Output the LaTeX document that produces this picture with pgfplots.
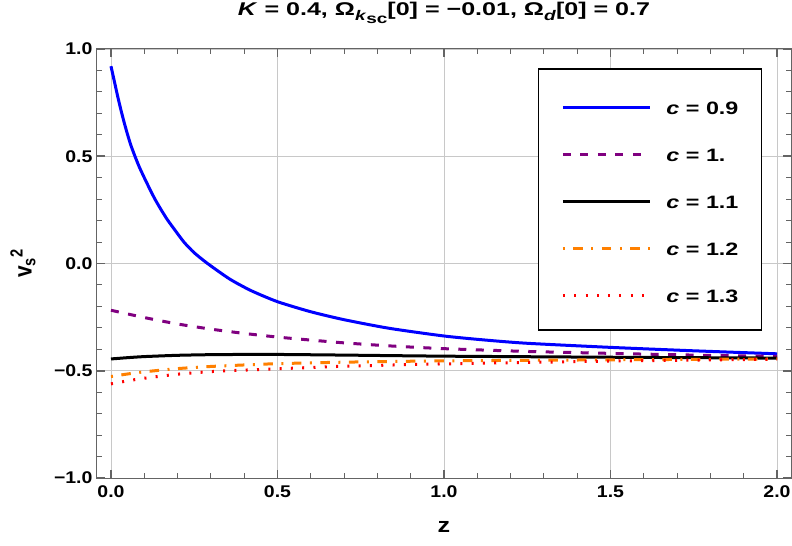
\documentclass[border=0pt]{standalone}
\usepackage{fontspec}
\setmainfont{Liberation Sans}
\usepackage{graphicx}
\usepackage{pgfplots}
\pgfplotsset{compat=1.18}
\definecolor{framegray}{RGB}{100,100,100}
\definecolor{gridgray}{RGB}{200,200,200}
\definecolor{mpurple}{RGB}{128,0,128}
\definecolor{morange}{RGB}{255,128,0}
\newcommand\tsx[1]{\scalebox{1.15}[1]{#1}}
\newcommand\lsx[1]{\scalebox{1.3}[1]{#1}}
\pgfplotstableread{
z v
0 0.92
0.01 0.85
0.02 0.78
0.03 0.715
0.04 0.655
0.05 0.60
0.06 0.55
0.072 0.50
0.085 0.45
0.1 0.40
0.115 0.352
0.132 0.30
0.15 0.252
0.169 0.205
0.19 0.16
0.219 0.10
0.25 0.05
0.29 0.0
0.356 -0.072
0.42 -0.126
0.5 -0.178
0.6 -0.225
0.7 -0.262
0.835 -0.302
1.0 -0.338
1.125 -0.357
1.25 -0.372
1.5 -0.391
1.75 -0.407
2.0 -0.421
}\blue
\pgfplotstableread{
z v
0 -0.218
0.1 -0.252
0.2 -0.282
0.3 -0.306
0.4 -0.326
0.5 -0.343
0.6 -0.357
0.7 -0.370
0.835 -0.384
1.0 -0.397
1.25 -0.410
1.5 -0.419
1.75 -0.427
2.0 -0.433
}\purple
\pgfplotstableread{
z v
0 -0.445
0.05 -0.439
0.1 -0.434
0.2 -0.428
0.3 -0.425
0.4 -0.424
0.5 -0.424
0.7 -0.427
1.0 -0.432
1.5 -0.437
2.0 -0.441
}\black
\pgfplotstableread{
z v
0 -0.527
0.05 -0.515
0.1 -0.505
0.2 -0.490
0.3 -0.480
0.4 -0.473
0.5 -0.467
0.7 -0.460
1.0 -0.454
1.5 -0.449
2.0 -0.445
}\orange
\pgfplotstableread{
z v
0 -0.561
0.05 -0.547
0.1 -0.535
0.2 -0.516
0.3 -0.504
0.4 -0.497
0.5 -0.491
0.7 -0.479
1.0 -0.468
1.5 -0.455
2.0 -0.446
}\red
\begin{document}
\begin{tikzpicture}
\useasboundingbox (-97bp,-68bp) rectangle (695bp,478bp);
\begin{axis}[
 at={(0,0)}, anchor=south west, scale only axis,
 width=694bp, height=429bp,
 xmin=-0.042, xmax=2.042, ymin=-1, ymax=1,
 axis line style={framegray, line width=1bp},
 xtick={0,0.5,1,1.5,2}, xticklabels={\tsx{0.0},\tsx{0.5},\tsx{1.0},\tsx{1.5},\tsx{2.0}},
 ytick={-1,-0.5,0,0.5,1}, yticklabels={\tsx{−1.0},\tsx{−0.5},\tsx{0.0},\tsx{0.5},\tsx{1.0}},
 minor x tick num=4, minor y tick num=4,
 tick align=inside,
 major tick length=8.5bp, minor tick length=5bp,
 major tick style={framegray, line width=1.6bp},
 minor tick style={framegray, line width=0.9bp},
 grid=major, major grid style={gridgray, line width=0.9bp},
 ticklabel style={font=\bfseries\fontsize{17}{20}\selectfont},
 xticklabel style={yshift=-4bp},
 yticklabel style={xshift=-1bp},
 every axis x label/.style={at={(axis description cs:0.5,-0.1259)}, anchor=base},
 every axis y label/.style={at={(axis description cs:-0.1066,0.5)}, anchor=center, rotate=90},
 xlabel={\scalebox{1.2}[1]{z}}, ylabel={\scalebox{1}[1.2]{v\textsubscript{s}\textsuperscript{2}}},
 label style={font=\bfseries\fontsize{21}{24}\selectfont},
 title style={at={(axis description cs:0.5,1.0653)}, anchor=base, font=\bfseries\fontsize{18.5}{22}\selectfont},
 title={\scalebox{1.36}[1]{\textit{K} = 0.4, Ω\raisebox{-0.3em}{\fontsize{14}{15}\selectfont\textit{k}\raisebox{-0.2em}{sc}}[0] = −0.01, Ω\raisebox{-0.3em}{\fontsize{14}{15}\selectfont\textit{d}}[0] = 0.7}},
 legend style={at={(0.635,0.955)}, anchor=north west, draw=black, line width=1.6bp, fill=white,
   inner xsep=23bp, inner ysep=13bp, row sep=0pt, column sep=15bp,
   font=\bfseries\fontsize{18}{22}\selectfont,
   nodes={text height=32bp, text depth=15bp, inner sep=0pt}},
 legend cell align=left,
 legend image code/.code={\draw[#1, line width=3bp] (0bp,-2bp) -- (87bp,-2bp);},
 clip=true,
]
\addplot[blue, line width=3bp, smooth, tension=0.4] table[x=z,y=v] {\blue};
\addlegendentry{\lsx{\textit{c} = 0.9}}
\addplot[mpurple, line width=3bp, smooth, tension=0.4, dash pattern=on 8bp off 9.5bp] table[x=z,y=v] {\purple};
\addlegendentry{\lsx{\textit{c} = 1.}}
\addplot[black, line width=3bp, smooth, tension=0.4] table[x=z,y=v] {\black};
\addlegendentry{\lsx{\textit{c} = 1.1}}
\addplot[morange, line width=3bp, smooth, tension=0.4, dash pattern=on 2bp off 8.5bp on 9.5bp off 8.5bp] table[x=z,y=v] {\orange};
\addlegendentry{\lsx{\textit{c} = 1.2}}
\addplot[red, line width=3bp, smooth, tension=0.4, dash pattern=on 2bp off 9.3bp] table[x=z,y=v] {\red};
\addlegendentry{\lsx{\textit{c} = 1.3}}
\end{axis}
\end{tikzpicture}
\end{document}
